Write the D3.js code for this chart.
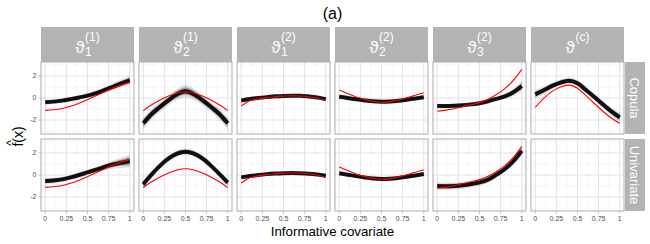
<!DOCTYPE html>
<html>
<head>
<meta charset="utf-8">
<script src="https://cdn.jsdelivr.net/npm/d3@7"></script>
<style>
  body { margin: 0; background: #fff; }
  svg { display: block; font-family: "Liberation Sans", Arial, sans-serif; }
</style>
</head>
<body>
<svg id="chart" width="650" height="244"></svg>
<script>
const ts = [0, 0.1, 0.2, 0.3, 0.4, 0.5, 0.6, 0.7, 0.8, 0.9, 1];

const colSub = ["1", "2", "1", "2", "3", ""];
const colSup = ["(1)", "(1)", "(2)", "(2)", "(2)", "(c)"];
const rowNames = ["Copula", "Univariate"];

const xTicks = [0, 0.25, 0.5, 0.75, 1];
const xTickLabels = ["0", "0.25", "0.5", "0.75", "1"];
const xMinor = [0.125, 0.375, 0.625, 0.875];
const yTicks = [-2, 0, 2];
const yTickLabels = ["-2", "0", "2"];
const yMinor = [-3, -1, 1, 3];

// true functions (red)
const truth = [
  [-1.12, -1.07, -0.95, -0.75, -0.48, -0.15, 0.2, 0.55, 0.88, 1.17, 1.42],
  [-1.15, -0.62, -0.18, 0.18, 0.45, 0.57, 0.45, 0.18, -0.18, -0.62, -1.15],
  [-0.73, -0.25, -0.08, 0.03, 0.12, 0.17, 0.2, 0.18, 0.12, 0.0, -0.22],
  [0.72, 0.4, 0.1, -0.13, -0.3, -0.38, -0.33, -0.18, 0.02, 0.25, 0.48],
  [-1.2, -1.1, -0.97, -0.8, -0.62, -0.42, -0.12, 0.32, 0.85, 1.6, 2.6],
  [-0.85, -0.03, 0.6, 1.0, 1.17, 0.88, 0.22, -0.5, -1.2, -1.82, -2.3]
];

// centre of the bundle of estimates, copula model
const copulaMean = [
  [-0.39, -0.33, -0.24, -0.1, 0.05, 0.22, 0.45, 0.72, 1.02, 1.32, 1.6],
  [-2.3, -1.45, -0.8, -0.2, 0.35, 0.62, 0.35, -0.2, -0.8, -1.45, -2.3],
  [-0.24, -0.1, 0.0, 0.08, 0.15, 0.19, 0.21, 0.2, 0.14, 0.05, -0.1],
  [0.12, 0.0, -0.12, -0.22, -0.3, -0.33, -0.31, -0.25, -0.15, -0.04, 0.06],
  [-0.73, -0.72, -0.71, -0.66, -0.58, -0.48, -0.3, -0.08, 0.15, 0.52, 1.09],
  [0.33, 0.7, 1.1, 1.4, 1.57, 1.33, 0.73, 0.09, -0.58, -1.22, -1.76]
];
// half width of the bundle, copula model
const copulaSpread = [
  [0.22, 0.2, 0.2, 0.2, 0.2, 0.22, 0.24, 0.27, 0.32, 0.38, 0.45],
  [0.55, 0.5, 0.45, 0.45, 0.5, 0.55, 0.5, 0.45, 0.45, 0.5, 0.55],
  [0.15, 0.12, 0.1, 0.1, 0.1, 0.1, 0.1, 0.1, 0.1, 0.12, 0.15],
  [0.18, 0.15, 0.13, 0.15, 0.18, 0.2, 0.18, 0.15, 0.13, 0.15, 0.18],
  [0.2, 0.18, 0.16, 0.15, 0.15, 0.15, 0.17, 0.2, 0.25, 0.35, 0.5],
  [0.4, 0.35, 0.3, 0.3, 0.3, 0.3, 0.3, 0.3, 0.32, 0.38, 0.45]
];

// univariate model (no panel for the copula parameter)
const univariateMean = [
  [-0.55, -0.5, -0.4, -0.22, 0.0, 0.24, 0.48, 0.73, 0.95, 1.12, 1.27],
  [-0.85, 0.05, 0.85, 1.5, 1.95, 2.12, 1.95, 1.5, 0.85, 0.1, -0.7],
  [-0.21, -0.1, 0.0, 0.08, 0.14, 0.17, 0.18, 0.16, 0.12, 0.04, -0.06],
  [0.15, 0.03, -0.1, -0.22, -0.32, -0.36, -0.34, -0.27, -0.16, -0.04, 0.09],
  [-1.0, -1.02, -1.0, -0.93, -0.82, -0.67, -0.42, 0.03, 0.55, 1.25, 2.2],
  null
];
const univariateSpread = [
  [0.3, 0.27, 0.24, 0.22, 0.22, 0.22, 0.25, 0.3, 0.38, 0.48, 0.6],
  [0.35, 0.3, 0.3, 0.3, 0.3, 0.3, 0.3, 0.3, 0.3, 0.3, 0.35],
  [0.15, 0.12, 0.1, 0.1, 0.1, 0.1, 0.1, 0.1, 0.1, 0.12, 0.15],
  [0.18, 0.15, 0.13, 0.15, 0.18, 0.2, 0.18, 0.15, 0.13, 0.15, 0.18],
  [0.35, 0.35, 0.33, 0.32, 0.3, 0.3, 0.3, 0.3, 0.3, 0.35, 0.45],
  null
];

const svg = d3.select("#chart");

const plotLeft = 41, plotTop = 62;
const panelW = 93, panelH = 72, gap = 5;
const stripH = 35, sideW = 20;
const grey70 = "#b3b3b3";

const x = d3.scaleLinear().domain([-0.05, 1.05]).range([0, panelW]);
const y = d3.scaleLinear().domain([-3.27, 3.27]).range([panelH, 0]);

const colX = i => plotLeft + i * (panelW + gap);
const rowY = r => plotTop + r * (panelH + gap);

svg.append("defs").append("clipPath").attr("id", "clip")
  .append("rect").attr("width", panelW).attr("height", panelH);

const line = d3.line()
  .x((d, i) => x(ts[i]))
  .y(d => y(d))
  .curve(d3.curveMonotoneX);

function band(mean, spread, k) {
  return d3.area()
    .x((d, i) => x(ts[i]))
    .y0((d, i) => y(mean[i] - k * spread[i]))
    .y1((d, i) => y(mean[i] + k * spread[i]))
    .curve(d3.curveMonotoneX)(mean);
}

const means = [copulaMean, univariateMean];
const spreads = [copulaSpread, univariateSpread];

rowNames.forEach((rowName, r) => {
  for (let c = 0; c < 6; c++) {
    const g = svg.append("g").attr("transform", `translate(${colX(c)},${rowY(r)})`);

    // grid
    g.selectAll(".vmin").data(xMinor).join("line")
      .attr("x1", d => x(d)).attr("x2", d => x(d)).attr("y1", 0).attr("y2", panelH)
      .attr("stroke", "#efefef").attr("stroke-width", 0.6);
    g.selectAll(".hmin").data(yMinor).join("line")
      .attr("y1", d => y(d)).attr("y2", d => y(d)).attr("x1", 0).attr("x2", panelW)
      .attr("stroke", "#efefef").attr("stroke-width", 0.6);
    g.selectAll(".vmaj").data(xTicks).join("line")
      .attr("x1", d => x(d)).attr("x2", d => x(d)).attr("y1", 0).attr("y2", panelH)
      .attr("stroke", "#e2e2e2").attr("stroke-width", 1);
    g.selectAll(".hmaj").data(yTicks).join("line")
      .attr("y1", d => y(d)).attr("y2", d => y(d)).attr("x1", 0).attr("x2", panelW)
      .attr("stroke", "#e2e2e2").attr("stroke-width", 1);

    const m = means[r][c];
    if (m) {
      const s = spreads[r][c];
      const inner = g.append("g").attr("clip-path", "url(#clip)");
      inner.append("path").attr("d", band(m, s, 1)).attr("fill", "#000").attr("opacity", 0.12);
      inner.append("path").attr("d", band(m, s, 0.6)).attr("fill", "#000").attr("opacity", 0.3);
      inner.append("path").attr("d", line(m)).attr("fill", "none")
        .attr("stroke", "#000").attr("stroke-width", 4).attr("opacity", 0.9);
      inner.append("path").attr("d", line(truth[c])).attr("fill", "none")
        .attr("stroke", "#ff0000").attr("stroke-width", 1.1);
    }

    g.append("rect").attr("width", panelW).attr("height", panelH)
      .attr("fill", "none").attr("stroke", grey70).attr("stroke-width", 1.1);

    // y axis on first column
    if (c === 0) {
      g.selectAll(".yt").data(yTicks).join("line")
        .attr("x1", -2.7).attr("x2", 0).attr("y1", d => y(d)).attr("y2", d => y(d))
        .attr("stroke", grey70).attr("stroke-width", 0.8);
      g.selectAll(".yl").data(yTicks).join("text")
        .attr("x", -4.5).attr("y", d => y(d)).attr("dy", "0.35em")
        .attr("text-anchor", "end").attr("font-size", 7).attr("fill", "#4d4d4d")
        .text((d, i) => yTickLabels[i]);
    }
    // x axis on bottom row
    if (r === 1) {
      g.selectAll(".xt").data(xTicks).join("line")
        .attr("y1", panelH).attr("y2", panelH + 2.7).attr("x1", d => x(d)).attr("x2", d => x(d))
        .attr("stroke", grey70).attr("stroke-width", 0.8);
      g.selectAll(".xl").data(xTicks).join("text")
        .attr("x", d => x(d)).attr("y", panelH + 10)
        .attr("text-anchor", "middle").attr("font-size", 7).attr("fill", "#4d4d4d")
        .text((d, i) => xTickLabels[i]);
    }
  }

  // row strip on the right
  const sy = rowY(r);
  svg.append("rect").attr("x", colX(5) + panelW + 1).attr("y", sy)
    .attr("width", sideW).attr("height", panelH).attr("fill", grey70);
  svg.append("text")
    .attr("transform", `translate(${colX(5) + panelW + 1 + sideW / 2},${sy + panelH / 2}) rotate(90)`)
    .attr("text-anchor", "middle").attr("dy", "0.35em")
    .attr("font-size", 13).attr("fill", "#fff").text(rowName);
});

// column strips with the parameter names
colSup.forEach((sup, c) => {
  const sx = colX(c);
  svg.append("rect").attr("x", sx).attr("y", plotTop - stripH).attr("width", panelW)
    .attr("height", stripH).attr("fill", grey70);
  const base = plotTop - 9;
  const lab = svg.append("g");
  const th = lab.append("text").attr("y", base).attr("font-size", 17).attr("fill", "#fff").text("ϑ");
  const w = th.node().getComputedTextLength();
  const sp = lab.append("text").attr("x", w + 0.5).attr("y", base - 12)
    .attr("font-size", 12).attr("fill", "#fff").text(sup);
  const sb = lab.append("text").attr("x", w + 0.5).attr("y", base + 3)
    .attr("font-size", 12).attr("fill", "#fff").text(colSub[c]);
  const total = w + 0.5 + Math.max(sp.node().getComputedTextLength(), sb.node().getComputedTextLength());
  lab.attr("transform", `translate(${sx + panelW / 2 - total / 2},0)`);
});

// titles
const midX = (plotLeft + colX(5) + panelW) / 2;
svg.append("text").attr("x", midX).attr("y", 19).attr("text-anchor", "middle")
  .attr("font-size", 16).attr("fill", "#000").text("(a)");
svg.append("text").attr("x", midX).attr("y", 236).attr("text-anchor", "middle")
  .attr("font-size", 13.3).attr("fill", "#000").text("Informative covariate");

const yl = svg.append("g").attr("transform", `translate(23,${(plotTop + rowY(1) + panelH) / 2}) rotate(-90)`);
yl.append("text").attr("text-anchor", "middle").attr("font-size", 14).attr("fill", "#000").text("f(x)");
yl.append("text").attr("x", -6.5).attr("y", -8).attr("text-anchor", "middle")
  .attr("font-size", 12).attr("fill", "#000").text("^");
</script>
</body>
</html>
